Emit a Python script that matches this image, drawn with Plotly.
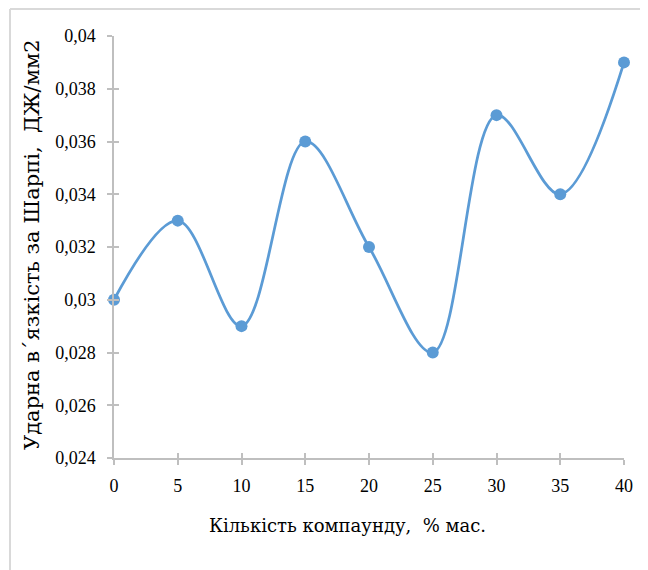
import plotly.graph_objects as go

x_vals = [0, 5, 10, 15, 20, 25, 30, 35, 40]
y_vals = [0.030, 0.033, 0.029, 0.036, 0.032, 0.028, 0.037, 0.034, 0.039]
y_ticks = [0.024, 0.026, 0.028, 0.030, 0.032, 0.034, 0.036, 0.038, 0.040]
y_tick_labels = ["0,024", "0,026", "0,028", "0,03", "0,032", "0,034", "0,036", "0,038", "0,04"]
x_ticks = [0, 5, 10, 15, 20, 25, 30, 35, 40]

x_title = "Кількість компаунду,  % мас."
y_title = "Ударна в΄язкість за Шарпі,  ДЖ/мм2"

BLUE = "#5B9BD5"
AXIS = "#BFBFBF"
FONT = "Liberation Serif"
TITLE_FONT = "DejaVu Serif"

fig = go.Figure()
fig.add_trace(go.Scatter(
    x=x_vals, y=y_vals, mode="lines+markers",
    line=dict(color=BLUE, width=2.75, shape="spline", smoothing=1.0),
    marker=dict(color=BLUE, size=12),
    showlegend=False, cliponaxis=False,
))
# helper trace for inner tick marks
fig.add_trace(go.Scatter(x=[x_vals[0]], y=[y_vals[0]], xaxis="x2", yaxis="y2",
                         mode="markers", marker=dict(opacity=0), showlegend=False,
                         hoverinfo="skip"))

OFF = 8  # page body margin
W, H = 640, 562
L, T = 114 - OFF, 36 - OFF
R = W - (624 - OFF)
B = H - (458 - OFF)
pw, ph = W - L - R, H - T - B


def px(ax):
    return (ax - OFF - L) / pw


def py(ay):
    return (H - B - (ay - OFF)) / ph


common = dict(showgrid=False, zeroline=False, linecolor=AXIS, linewidth=1.5,
              tickcolor=AXIS, tickwidth=1.5, ticklen=5)

fig.update_layout(
    width=W, height=H,
    margin=dict(l=L, r=R, t=T, b=B, pad=0),
    paper_bgcolor="white", plot_bgcolor="white",
    font=dict(family=FONT, size=18, color="#000000"),
    xaxis=dict(range=[0, 40], tickvals=x_ticks, ticks="outside", showline=True,
               tickfont=dict(family=FONT, size=18), ticklabelstandoff=6, **common),
    yaxis=dict(range=[0.024, 0.040], tickvals=y_ticks, ticktext=y_tick_labels,
               ticks="outside", showline=True,
               tickfont=dict(family=FONT, size=18), ticklabelstandoff=8, **common),
    xaxis2=dict(range=[0, 40], tickvals=x_ticks, ticks="inside", showline=False,
                showticklabels=False, overlaying="x", anchor="y2", side="bottom", **common),
    yaxis2=dict(range=[0.024, 0.040], tickvals=y_ticks, ticks="inside", showline=False,
                showticklabels=False, overlaying="y", anchor="x2", side="left", **common),
    annotations=[
        dict(text=x_title, x=px(347), y=py(525), xref="paper", yref="paper",
             showarrow=False, font=dict(family=TITLE_FONT, size=18), xanchor="center", yanchor="middle"),
        dict(text=y_title, x=px(32), y=py(245), xref="paper", yref="paper",
             showarrow=False, textangle=-90, font=dict(family=TITLE_FONT, size=21),
             xanchor="center", yanchor="middle"),
    ],
    shapes=[
        dict(type="line", xref="paper", yref="paper",
             x0=px(10), x1=px(648), y0=py(9), y1=py(9),
             line=dict(color="#D9D9D9", width=2)),
        dict(type="line", xref="paper", yref="paper",
             x0=px(10), x1=px(10), y0=py(9), y1=py(570),
             line=dict(color="#D9D9D9", width=2)),
    ],
)

fig.write_html("out.html")
